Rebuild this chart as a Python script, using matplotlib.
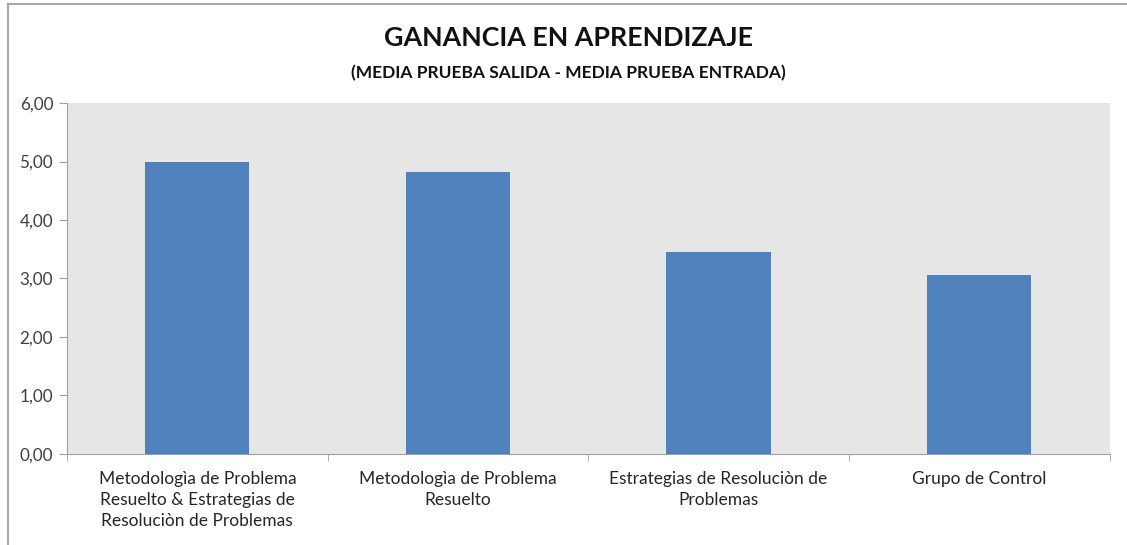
import numpy as np
import matplotlib.pyplot as plt
from matplotlib.lines import Line2D
from matplotlib.ticker import FuncFormatter

# Data
categories = [
    "Metodologìa de Problema\nResuelto & Estrategias de\nResoluciòn de Problemas",
    "Metodologìa de Problema\nResuelto",
    "Estrategias de Resoluciòn de\nProblemas",
    "Grupo de Control",
]
ganancia = [5.00, 4.82, 3.45, 3.06]
y_ticks = [0, 1, 2, 3, 4, 5, 6]

plt.rcParams["font.family"] = ["Lato", "DejaVu Sans"]

fig = plt.figure(figsize=(11.27, 5.45), dpi=100)
ax = fig.add_axes([0.0595, 0.167, 0.925, 0.644])

x = np.arange(len(categories))
ax.bar(x, ganancia, width=0.4, color="#4F81BD", zorder=2)

ax.set_facecolor("#E6E6E6")
ax.set_xlim(-0.5, len(categories) - 0.5)
ax.set_ylim(0, 6)
ax.set_yticks(y_ticks)
ax.yaxis.set_major_formatter(FuncFormatter(lambda v, p: f"{v:.2f}".replace(".", ",")))
ax.tick_params(axis="y", direction="out", length=6, color="#A0A0A0",
               labelsize=12.3, labelcolor="#404040", pad=4)

# category labels centred on bars, tick marks between categories
ax.set_xticks(x)
ax.set_xticklabels(categories, fontsize=12.5, color="#262626", linespacing=1.38)
ax.tick_params(axis="x", length=0, pad=12)
ax.set_xticks(np.arange(len(categories) + 1) - 0.5, minor=True)
ax.tick_params(axis="x", which="minor", direction="out", length=5, color="#A0A0A0")

for s in ["top", "right"]:
    ax.spines[s].set_visible(False)
ax.spines["left"].set_color("#A0A0A0")
ax.spines["bottom"].set_color("#A0A0A0")

fig.text(0.504, 0.93, "GANANCIA EN APRENDIZAJE", ha="center", va="center",
         fontsize=19.3, fontweight="bold", color="#111111")
fig.text(0.504, 0.866, "(MEDIA PRUEBA SALIDA - MEDIA PRUEBA ENTRADA)", ha="center",
         va="center", fontsize=12.5, fontweight="bold", color="#111111")

# outer frame (top and left edges visible in the original)
fig.add_artist(Line2D([0.007, 1.0], [0.992, 0.992], transform=fig.transFigure,
                      color="#A8A8A8", lw=1.5))
fig.add_artist(Line2D([0.0075, 0.0075], [0.0, 0.992], transform=fig.transFigure,
                      color="#A8A8A8", lw=1.5))

fig.savefig("out.png", dpi=100)
